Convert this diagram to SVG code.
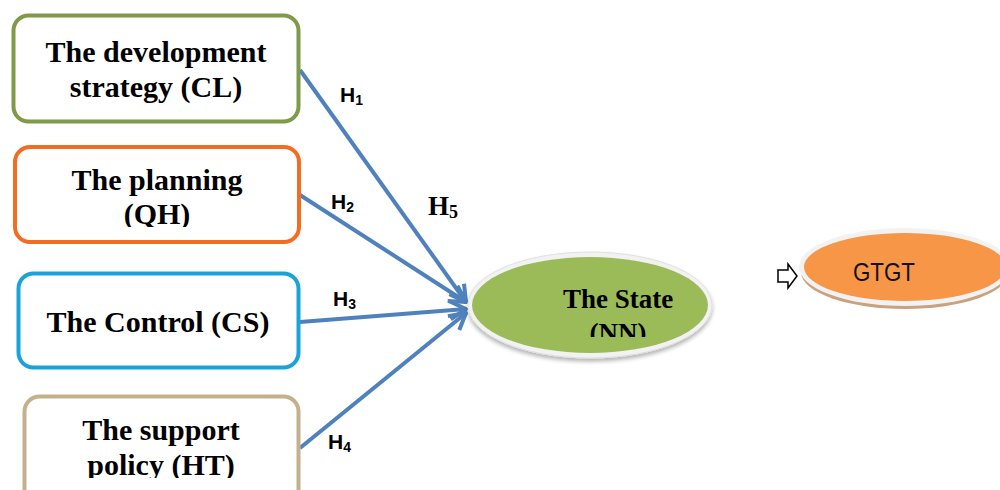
<svg xmlns="http://www.w3.org/2000/svg" width="1000" height="490" viewBox="0 0 1000 490">
<style>
.box{fill:#fff;stroke-width:4}
.bt{font-family:"Liberation Serif","Times New Roman",serif;font-weight:bold;font-size:30px;fill:#000;text-anchor:middle}
.h{font-family:"Liberation Sans",Arial,sans-serif;font-weight:bold;font-size:21px;fill:#000}
.sub{font-size:14px}
.con{stroke:#4F81BD;stroke-width:4;fill:none;marker-end:url(#ah)}
</style>
<defs>
<marker id="ah" markerUnits="userSpaceOnUse" viewBox="0 0 22 22" refX="19" refY="11" markerWidth="22" markerHeight="22" orient="auto">
<path d="M3,2 L19,11 L3,20" fill="none" stroke="#4F81BD" stroke-width="4" stroke-linejoin="round"/>
</marker>
<clipPath id="c2"><rect x="0" y="140" width="310" height="87"/></clipPath>
<clipPath id="c4"><rect x="0" y="390" width="310" height="88"/></clipPath>
<clipPath id="cs"><rect x="460" y="250" width="260" height="87"/></clipPath>
<filter id="sh" x="-10%" y="-20%" width="120%" height="150%">
<feGaussianBlur in="SourceAlpha" stdDeviation="2"/>
<feOffset dx="0" dy="3"/>
<feComponentTransfer><feFuncA type="linear" slope="0.3"/></feComponentTransfer>
<feMerge><feMergeNode/><feMergeNode in="SourceGraphic"/></feMerge>
</filter>
</defs>

<g id="connectors">
<line class="con" x1="300" y1="70" x2="466" y2="302"/>
<line class="con" x1="300" y1="195" x2="466" y2="302"/>
<line class="con" x1="300" y1="322" x2="466" y2="309"/>
<line class="con" x1="300" y1="448" x2="466" y2="313"/>
<polygon points="778,270 788,270 788,264 797,276 788,288 788,282 778,282" fill="#fff" stroke="#000" stroke-width="1.5"/>
<text class="h" x="340" y="102">H<tspan class="sub" dy="3">1</tspan></text>
<text class="h" x="331" y="209">H<tspan class="sub" dy="3">2</tspan></text>
<text class="h" x="333" y="306">H<tspan class="sub" dy="3">3</tspan></text>
<text class="h" x="328" y="449">H<tspan class="sub" dy="3">4</tspan></text>
<text x="428" y="215" style="font-family:'Liberation Serif','Times New Roman',serif;font-weight:bold;font-size:27px">H<tspan dy="3" font-size="18">5</tspan></text>
</g>

<g id="cl">
<rect class="box" x="13.5" y="15.5" width="285" height="106" rx="15" stroke="#7F9A48"/>
<text class="bt" x="156" y="62">The development</text>
<text class="bt" x="156" y="97">strategy (CL)</text>
</g>

<g id="qh">
<rect class="box" x="15" y="147" width="284" height="95" rx="15" stroke="#F36C21"/>
<g clip-path="url(#c2)">
<text class="bt" x="157" y="190">The planning</text>
<text class="bt" x="157" y="224">(QH)</text>
</g>
</g>

<g id="cs-node">
<rect class="box" x="18.5" y="273.5" width="280" height="94" rx="15" stroke="#1AA3DB"/>
<text class="bt" x="158" y="332">The Control (CS)</text>
</g>

<g id="ht">
<rect class="box" x="24.5" y="396.5" width="274" height="110" rx="15" stroke="#C4B08C"/>
<g clip-path="url(#c4)">
<text class="bt" x="161" y="440">The support</text>
<text class="bt" x="161" y="475">policy (HT)</text>
</g>
</g>

<g id="nn">
<ellipse cx="590" cy="305" rx="122" ry="53" fill="#F2F2F2" stroke="#E0E0E0" stroke-width="1" filter="url(#sh)"/>
<ellipse cx="590" cy="305" rx="118" ry="48" fill="#9BBB59"/>
<g clip-path="url(#cs)">
<text x="618" y="308" style="font-family:'Liberation Serif','Times New Roman',serif;font-weight:bold;font-size:27px;text-anchor:middle">The State</text>
<text x="618" y="342" style="font-family:'Liberation Serif','Times New Roman',serif;font-weight:bold;font-size:27px;text-anchor:middle">(NN)</text>
</g>
</g>

<g id="gtgt">
<ellipse cx="905" cy="272" rx="104" ry="37" fill="#C9A27F"/>
<ellipse cx="905" cy="267" rx="106" ry="39" fill="#F2F2F2"/>
<ellipse cx="905" cy="267" rx="101" ry="34" fill="#F79646"/>
<text x="853" y="281" textLength="62" lengthAdjust="spacingAndGlyphs" style="font-family:'Liberation Sans',Arial,sans-serif;font-size:26px;fill:#111">GTGT</text>
</g>
</svg>
